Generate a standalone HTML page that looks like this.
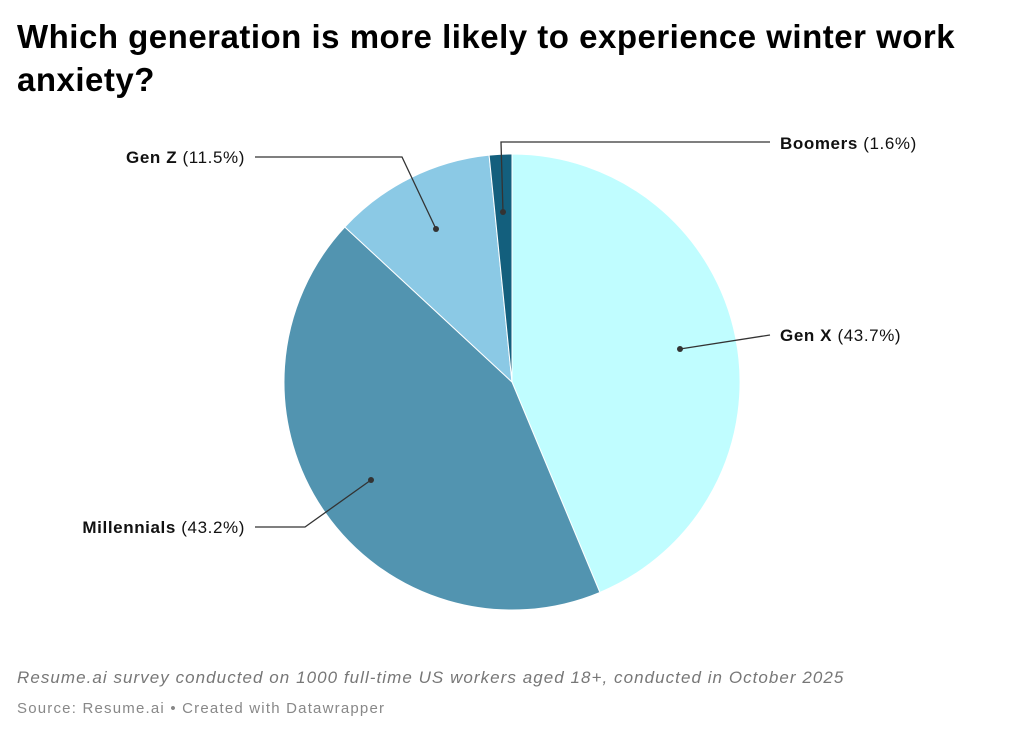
<!DOCTYPE html>
<html><head><style>
body{margin:0;background:#fff;width:1023px;height:737px;overflow:hidden;font-family:"Liberation Sans",sans-serif}
h1{position:absolute;left:17px;top:15px;margin:0;font-size:33px;line-height:43px;font-weight:bold;color:#000;width:1000px;letter-spacing:0.5px}
.n{position:absolute;left:17px;top:668px;font-size:17px;font-style:italic;color:#777;letter-spacing:1.05px}
.s{position:absolute;left:17px;top:700px;font-size:15px;color:#888;letter-spacing:1.2px}
</style></head><body>
<h1>Which generation is more likely to experience winter work anxiety?</h1>
<svg width="1023" height="737" style="position:absolute;left:0;top:0">
<g stroke="#fff" stroke-width="1">
<path d="M512,382 L512,154 A228,228 0 0 1 599.9,592.4 Z" fill="#c0fdff"/>
<path d="M512,382 L599.9,592.4 A228,228 0 0 1 344.8,227 Z" fill="#5294b0"/>
<path d="M512,382 L344.8,227 A228,228 0 0 1 489.1,155.1 Z" fill="#8bc9e5"/>
<path d="M512,382 L489.1,155.1 A228,228 0 0 1 512,154 Z" fill="#135f7d"/>
</g>
<g stroke="#333" stroke-width="1.3" fill="none">
<polyline points="680,349 770,335"/>
<polyline points="371,480 305,527 255,527"/>
<polyline points="436,229 402,157 255,157"/>
<polyline points="503,212 501,142 770,142"/>
</g>
<g fill="#333"><circle cx="680" cy="349" r="3"/><circle cx="371" cy="480" r="3"/><circle cx="436" cy="229" r="3"/><circle cx="503" cy="212" r="3"/></g>
<g font-family="Liberation Sans, sans-serif" font-size="17" fill="#111" letter-spacing="0.6">
<text x="780" y="341"><tspan font-weight="bold">Gen X</tspan> (43.7%)</text>
<text x="780" y="149"><tspan font-weight="bold">Boomers</tspan> (1.6%)</text>
<text x="245" y="533" text-anchor="end"><tspan font-weight="bold">Millennials</tspan> (43.2%)</text>
<text x="245" y="163" text-anchor="end"><tspan font-weight="bold">Gen Z</tspan> (11.5%)</text>
</g>
</svg>
<div class="n">Resume.ai survey conducted on 1000 full-time US workers aged 18+, conducted in October 2025</div>
<div class="s">Source: Resume.ai • Created with Datawrapper</div>
</body></html>
